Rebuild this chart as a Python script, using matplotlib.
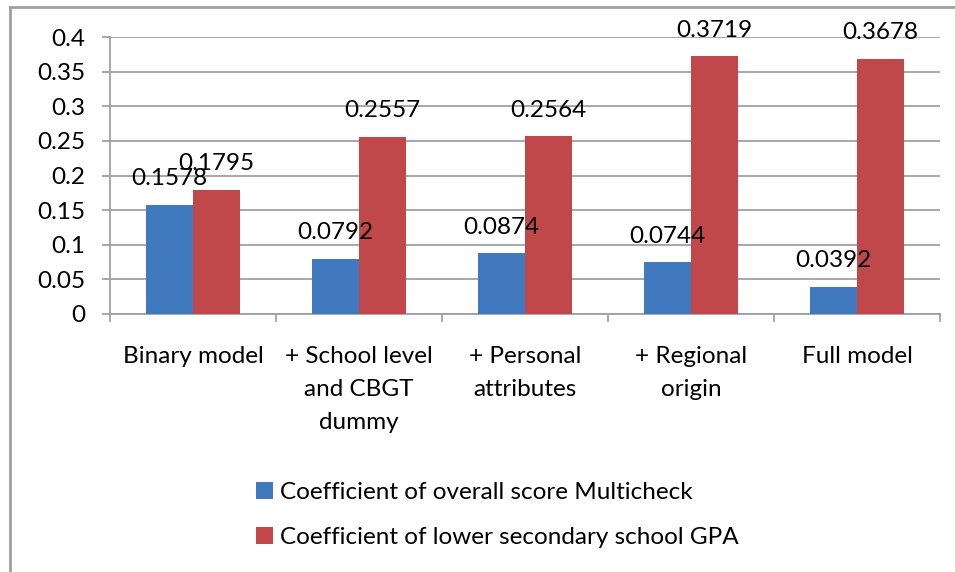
import matplotlib
matplotlib.use("Agg")
import matplotlib.pyplot as plt
from matplotlib.lines import Line2D
import numpy as np

# data
models = ["Binary model", "+ School level\nand CBGT\ndummy", "+ Personal\nattributes",
          "+ Regional\norigin", "Full model"]
coef_multicheck = [0.1578, 0.0792, 0.0874, 0.0744, 0.0392]
coef_gpa = [0.1795, 0.2557, 0.2564, 0.3719, 0.3678]
series_names = ["Coefficient of overall score Multicheck",
                "Coefficient of lower secondary school GPA"]
yticks = [0, 0.05, 0.1, 0.15, 0.2, 0.25, 0.3, 0.35, 0.4]

blue = "#4179BE"
red = "#C0474A"
grid_gray = "#A0A0A0"

plt.rcParams["font.family"] = ["Lato", "DejaVu Sans"]
fs = 17.5

W, H = 955, 572
fig = plt.figure(figsize=(W / 100, H / 100), dpi=100)
ax = fig.add_axes([110 / W, 1 - 314 / H, (940 - 110) / W, (314 - 37) / H])

x = np.arange(len(models))
bw = 0.284
b1 = ax.bar(x - bw / 2, coef_multicheck, bw, color=blue, label=series_names[0], zorder=3)
b2 = ax.bar(x + bw / 2, coef_gpa, bw, color=red, label=series_names[1], zorder=3)

for bars, vals in ((b1, coef_multicheck), (b2, coef_gpa)):
    for rect, v in zip(bars, vals):
        ax.annotate(f"{v:.4f}", (rect.get_x() + rect.get_width() / 2, v),
                    xytext=(0, 19), textcoords="offset points",
                    ha="center", va="center", fontsize=fs, zorder=4)

ax.set_xlim(-0.5, len(models) - 0.5)
ax.set_ylim(0, 0.4)
ax.set_yticks(yticks)
ax.set_yticklabels([f"{t:g}" for t in yticks])
ax.yaxis.grid(True, color=grid_gray, lw=1.3, zorder=0)

ax.set_xticks(np.arange(len(models) + 1) - 0.5)
ax.set_xticklabels([])
ax.set_xticks(x, minor=True)
ax.set_xticklabels(models, minor=True, fontsize=fs, linespacing=1.72)
ax.tick_params(axis="x", which="minor", length=0, pad=23)
ax.tick_params(axis="x", which="major", length=6, width=1.3, color=grid_gray, direction="out")
ax.tick_params(axis="y", length=6, width=1.3, color=grid_gray, direction="out",
               labelsize=fs, pad=12)

for s in ("top", "right"):
    ax.spines[s].set_visible(False)
for s in ("left", "bottom"):
    ax.spines[s].set_color(grid_gray)
    ax.spines[s].set_linewidth(1.3)

leg = fig.legend(handles=[b1, b2], loc="center left",
                 bbox_to_anchor=(246 / W, 1 - 515 / H), frameon=False,
                 fontsize=fs, handlelength=0.7, handleheight=0.7,
                 handletextpad=0.3, labelspacing=1.0, borderaxespad=0)

# outer chart border (only left and top visible in the crop)
fig.add_artist(Line2D([9.5 / W, 9.5 / W], [0, 1 - 7 / H], transform=fig.transFigure,
                      color=grid_gray, lw=2))
fig.add_artist(Line2D([9.5 / W, 1], [1 - 7 / H, 1 - 7 / H], transform=fig.transFigure,
                      color=grid_gray, lw=2))

fig.savefig("out.png", dpi=100)
